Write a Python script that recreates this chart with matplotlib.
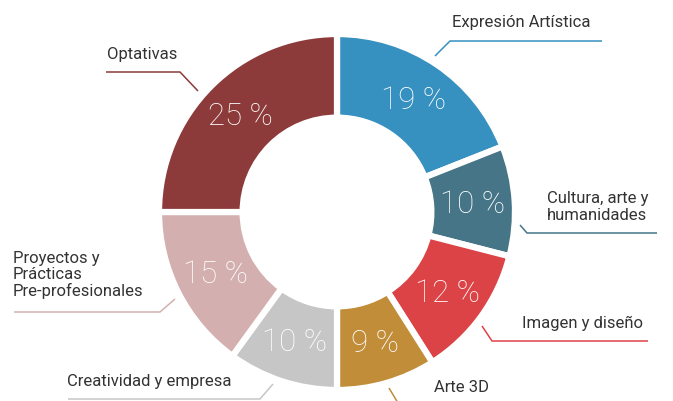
import matplotlib
matplotlib.use("Agg")
import matplotlib.pyplot as plt
import numpy as np

categories = ["Expresión Artística", "Cultura, arte y\nhumanidades", "Imagen y diseño",
              "Arte 3D", "Creatividad y empresa", "Proyectos y\nPrácticas\nPre-profesionales",
              "Optativas"]
values = [19, 10, 12, 9, 10, 15, 25]
pct_labels = ["19 %", "10 %", "12 %", "9 %", "10 %", "15 %", "25 %"]
colors = ["#3690C0", "#457586", "#DC4346", "#C18D38", "#C6C6C6", "#D4AFAF", "#8C3A3A"]

W, H = 673, 402
fig = plt.figure(figsize=(W / 100, H / 100), dpi=100)
ax = fig.add_axes([0, 0, 1, 1])

cx, cy = 337, H - 213
R = 178
ring = 0.47

wedges, _ = ax.pie(values, colors=colors, startangle=90, counterclock=False,
                   radius=R, center=(cx, cy), frame=True,
                   wedgeprops=dict(width=R * ring, edgecolor="white", linewidth=4.5))
ax.set_xlim(0, W)
ax.set_ylim(0, H)
ax.set_aspect("equal")
ax.axis("off")

font = "Roboto"
mid_r = R * (1 - ring / 2)
for w, lab in zip(wedges, pct_labels):
    ang = np.deg2rad((w.theta1 + w.theta2) / 2)
    x = cx + mid_r * np.cos(ang)
    y = cy + mid_r * np.sin(ang)
    ax.text(x, y, lab, ha="center", va="center", color="white", fontsize=22.5,
            family=font, fontweight="light")

# leader lines (pixel layout, y measured from top) and label anchors
leaders = [
    [(435, 57), (450, 42), (602, 42)],
    [(520, 226), (527, 234), (657, 234)],
    [(482, 327), (492, 342), (648, 342)],
    [(389, 389), (398, 404)],
    [(273, 385), (260, 400), (68, 400)],
    [(175, 300), (160, 313), (14, 313)],
    [(198, 92), (180, 73), (106, 73)],
]
text_pos = [
    (452, 22),
    (547, 207),
    (522, 323),
    (434, 388),
    (67, 382),
    (13, 275),
    (107, 55),
]
for cat, col, pts, (tx, ty) in zip(categories, colors, leaders, text_pos):
    xs = [p[0] for p in pts]
    ys = [H - p[1] for p in pts]
    ax.plot(xs, ys, color=col, lw=1.1, solid_capstyle="butt", clip_on=False)
    ax.text(tx, H - ty, cat, ha="left", va="center", fontsize=12, color="#333333",
            family=font, linespacing=1.1)

fig.savefig("out.png", dpi=100, facecolor="white")
